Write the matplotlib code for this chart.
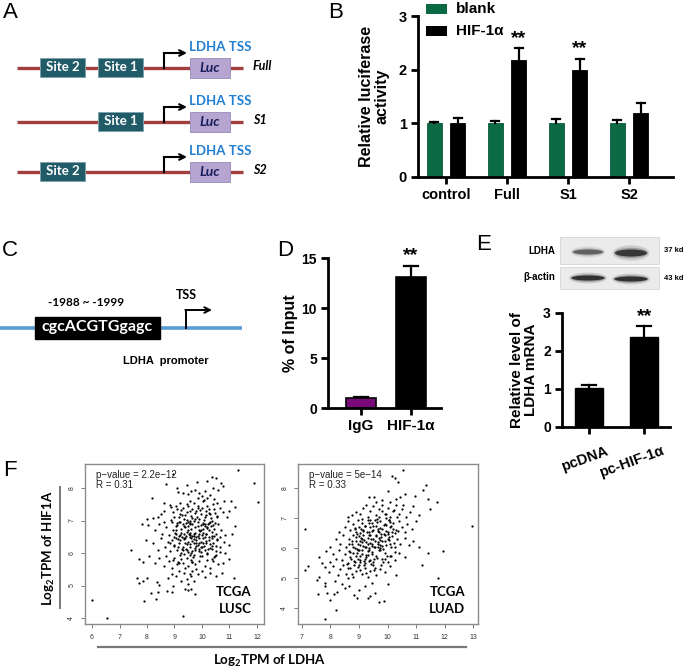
import matplotlib
matplotlib.use("Agg")
import matplotlib.pyplot as plt
from matplotlib.patches import Rectangle, Ellipse

plt.rcParams['font.family'] = ['Liberation Sans', 'DejaVu Sans']
plt.rcParams['mathtext.default'] = 'regular'

# ---------------- data ----------------
b_categories = ['control', 'Full', 'S1', 'S2']
b_blank = [1.0, 1.0, 1.0, 1.0]
b_blank_err = [0.03, 0.05, 0.08, 0.07]
b_hif = [1.0, 2.18, 2.0, 1.2]
b_hif_err = [0.10, 0.22, 0.20, 0.17]
b_sig = ['', '**', '**', '']

d_categories = ['IgG', 'HIF-1α']
d_values = [1.0, 13.1]
d_err = [0.1, 1.1]
d_sig = ['', '**']

e_categories = ['pcDNA', 'pc-HIF-1α']
e_values = [1.02, 2.38]
e_err = [0.08, 0.27]
e_sig = ['', '**']

lusc_x = [8.96, 8.69, 9.1, 9.81, 10.17, 10.5, 10.35, 10.7, 10.75, 11.31, 11.88, 9.45, 10.4, 10.6,
          8.17, 9.14, 9.32, 9.48, 9.6, 9.75, 9.85, 9.9, 10.0, 10.05, 10.2, 10.3, 10.45, 10.55, 10.8, 11.07, 12.03, 9.2, 9.55, 9.7, 10.1, 10.4, 8.6, 8.84,
          8.0, 8.23, 8.4, 8.5, 8.6, 8.96, 9.0, 9.1, 9.2, 9.3, 9.35, 9.45, 9.5, 9.6, 9.65, 9.75, 9.8, 9.85, 9.95, 10.0, 10.1, 10.15, 10.2, 10.3, 10.35, 10.45, 10.55, 10.65, 10.75, 10.9, 11.21, 11.0, 9.05, 9.55, 9.9, 10.25,
          7.81, 8.05, 8.3, 8.45, 8.55, 8.7, 8.8, 8.9, 8.95, 9.05, 9.1, 9.15, 9.2, 9.25, 9.3, 9.35, 9.4, 9.45, 9.5, 9.55, 9.6, 9.65, 9.7, 9.75, 9.8, 9.85, 9.9, 9.95, 10.0, 10.05, 10.1, 10.15, 10.2, 10.25, 10.3, 10.35, 10.4, 10.5, 10.6, 10.7, 10.85, 11.19, 11.1, 8.6, 9.0, 9.5, 9.2, 10.45,
          7.96, 8.2, 8.4, 8.5, 8.65, 8.75, 8.85, 8.9, 9.0, 9.05, 9.1, 9.15, 9.2, 9.25, 9.3, 9.35, 9.4, 9.45, 9.5, 9.55, 9.6, 9.65, 9.7, 9.75, 9.8, 9.85, 9.9, 9.95, 10.0, 10.05, 10.1, 10.15, 10.2, 10.25, 10.3, 10.4, 10.5, 10.55, 10.65, 10.8, 10.82, 11.0, 9.4, 9.6, 9.9, 10.35,
          7.41, 7.71, 7.84, 8.07, 8.3, 8.45, 8.6, 8.7, 8.8, 8.9, 9.0, 9.1, 9.2, 9.3, 9.4, 9.45, 9.5, 9.6, 9.7, 9.75, 9.8, 9.9, 10.0, 10.1, 10.2, 10.3, 10.4, 10.5, 10.6, 10.97, 10.75, 9.55,
          7.62, 7.71, 7.87, 8.01, 8.35, 8.45, 8.78, 8.96, 8.9, 9.05, 9.15, 9.25, 9.35, 9.45, 9.5, 9.6, 9.65, 9.7, 9.85, 10.0, 10.1, 10.3, 10.73, 11.17, 10.5, 9.55,
          7.89, 8.13, 8.33, 8.41, 8.72, 8.92, 9.75, 9.32, 6.0, 6.53, 9.6, 9.4, 9.5,
          9.02, 9.12, 9.18, 9.22, 9.28, 9.32, 9.38, 9.42, 9.48, 9.52, 9.58, 9.62, 9.68, 9.72, 9.78, 9.82, 9.88, 9.92, 9.98, 10.02, 10.08, 10.12, 10.18, 10.22, 10.28, 10.32, 10.38, 10.42, 10.48, 10.52,
          9.08, 9.58, 9.88, 10.12, 9.42, 9.72, 10.02, 9.62, 9.92, 10.22, 9.25, 9.55, 9.85, 10.15, 9.35, 9.65, 9.95, 10.25, 9.45, 9.75]
lusc_y = [8.42, 8.11, 7.99, 8.19, 8.21, 8.3, 8.35, 8.15, 8.05, 8.55, 8.14, 8.1, 8.0, 7.95,
          7.70, 7.87, 7.84, 7.81, 7.9, 7.95, 7.7, 7.85, 7.75, 7.6, 7.7, 7.8, 7.65, 7.55, 7.6, 7.6, 7.58, 7.55, 7.6, 7.55, 7.9, 7.5, 7.55, 7.48,
          7.05, 7.07, 7.1, 7.2, 7.3, 7.27, 7.1, 7.35, 7.2, 7.4, 7.05, 7.25, 7.45, 7.15, 7.35, 7.05, 7.3, 7.45, 7.2, 7.4, 7.1, 7.3, 7.45, 7.2, 7.0, 7.35, 7.15, 7.4, 7.25, 7.1, 7.42, 7.3, 7.45, 7.0, 7.05, 7.35,
          6.88, 6.86, 6.7, 6.9, 6.6, 6.8, 6.55, 6.95, 6.7, 6.6, 6.85, 6.95, 6.55, 6.75, 6.9, 6.6, 6.8, 6.65, 6.95, 6.55, 6.75, 6.9, 6.6, 6.8, 6.5, 6.95, 6.7, 6.85, 6.55, 6.75, 6.9, 6.6, 6.8, 6.5, 6.95, 6.65, 6.85, 6.6, 6.9, 6.7, 6.55, 6.84, 6.6, 6.95, 6.5, 6.7, 6.95, 6.75,
          6.4, 6.3, 6.1, 6.45, 6.2, 6.35, 6.05, 6.4, 6.25, 6.45, 6.1, 6.3, 6.4, 6.0, 6.2, 6.45, 6.3, 6.1, 6.35, 6.2, 6.45, 6.05, 6.3, 6.15, 6.4, 6.25, 6.05, 6.35, 6.2, 6.45, 6.1, 6.3, 6.0, 6.4, 6.15, 6.3, 6.05, 6.4, 6.2, 6.35, 6.0, 6.25, 6.45, 6.0, 6.45, 6.45,
          6.09, 5.82, 5.73, 5.92, 5.7, 5.85, 5.6, 5.9, 5.75, 5.55, 5.85, 5.65, 5.95, 5.7, 5.55, 5.85, 5.6, 5.8, 5.95, 5.65, 5.5, 5.75, 5.9, 5.6, 5.8, 5.55, 5.75, 5.95, 5.65, 5.82, 5.7, 5.95,
          5.22, 5.07, 5.14, 5.22, 5.1, 5.02, 5.22, 4.99, 5.35, 5.3, 5.45, 5.15, 5.4, 5.2, 5.05, 5.3, 5.45, 5.15, 5.35, 5.45, 5.25, 5.4, 5.38, 5.22, 5.3, 5.35,
          4.52, 4.76, 4.58, 4.81, 4.83, 4.81, 4.73, 4.07, 4.55, 4.0, 4.9, 4.9, 4.85,
          6.62, 6.18, 7.12, 5.82, 6.48, 6.08, 7.18, 6.92, 6.02, 6.58, 7.28, 6.38, 5.88, 6.98, 6.22, 7.12, 6.58, 5.92, 6.72, 6.32, 7.02, 6.48, 5.98, 6.88, 6.28, 7.08, 6.52, 5.88, 6.92, 6.22,
          6.92, 6.48, 6.12, 6.82, 6.52, 6.42, 6.88, 5.72, 7.32, 6.12, 6.62, 6.28, 6.82, 6.58, 6.82, 6.52, 6.18, 6.72, 7.02, 7.22]
lusc_core_x = [8.82, 8.88, 8.94, 9.06, 9.14, 9.24, 9.36, 9.44, 9.56, 9.64, 9.76, 9.84, 9.96, 10.04, 10.16, 10.24, 10.36, 10.44, 10.56, 10.64,
               8.86, 9.16, 9.46, 9.76, 10.06, 10.36, 10.66, 8.98, 9.28, 9.58, 9.88, 10.18, 10.48, 9.04, 9.34, 9.64, 9.94, 10.26, 10.54,
               9.12, 9.42, 9.72, 10.02, 10.32, 9.18, 9.48, 9.78, 10.08, 10.38, 9.26, 9.56, 9.86, 10.14, 10.46]
lusc_core_y = [6.32, 7.02, 5.78, 6.72, 6.42, 7.32, 5.98, 6.28, 6.88, 5.72, 6.62, 7.38, 6.02, 6.92, 6.38, 7.22, 6.12, 6.52, 7.12, 6.02,
               7.42, 5.68, 7.52, 6.08, 7.62, 5.82, 6.48, 6.22, 7.18, 6.62, 6.32, 6.78, 7.22, 6.82, 6.42, 7.08, 6.68, 6.92, 6.42,
               5.72, 6.12, 6.52, 6.62, 6.82, 6.52, 6.82, 6.32, 6.22, 6.22, 6.12, 6.92, 6.52, 7.18, 5.92]

luad_x = [10.56, 10.17, 10.25, 10.38, 11.34, 11.26, 10.0, 9.52, 11.42, 11.73, 9.36, 9.8, 10.1, 10.3, 9.6, 10.6, 10.45, 10.95,
          8.6, 8.75, 8.9, 9.05, 9.15, 9.3, 9.4, 9.5, 9.6, 9.7, 9.8, 9.9, 10.0, 10.1, 10.2, 10.3, 10.4, 10.5, 10.65, 10.8, 10.9, 11.1, 11.5, 9.25, 9.95, 10.55,
          7.1, 8.3, 8.5, 8.6, 8.7, 8.8, 8.9, 8.95, 9.0, 9.1, 9.15, 9.2, 9.3, 9.35, 9.4, 9.45, 9.5, 9.55, 9.6, 9.7, 9.75, 9.8, 9.9, 10.0, 10.05, 10.1, 10.2, 10.3, 10.4, 10.5, 10.6, 10.7, 10.85, 11.0, 12.95, 9.05, 9.65, 10.25,
          8.0, 8.2, 8.35, 8.45, 8.55, 8.65, 8.75, 8.8, 8.85, 8.9, 9.0, 9.05, 9.1, 9.15, 9.2, 9.25, 9.3, 9.35, 9.4, 9.45, 9.5, 9.55, 9.6, 9.65, 9.7, 9.75, 9.8, 9.9, 9.95, 10.0, 10.1, 10.15, 10.25, 10.35, 10.45, 10.6, 10.75, 10.9, 11.1, 9.12, 9.42, 9.72,
          7.6, 7.85, 8.0, 8.1, 8.2, 8.3, 8.4, 8.5, 8.6, 8.65, 8.7, 8.8, 8.85, 8.9, 9.0, 9.05, 9.1, 9.2, 9.25, 9.3, 9.4, 9.45, 9.5, 9.6, 9.7, 9.8, 9.9, 10.0, 10.1, 10.25, 10.4, 10.6, 11.42, 11.96, 9.35, 8.95,
          7.12, 7.21, 7.7, 7.82, 7.58, 7.95, 8.1, 8.25, 8.35, 8.45, 8.55, 8.7, 8.8, 8.9, 9.0, 9.1, 9.2, 9.3, 9.4, 9.5, 9.6, 9.75, 9.9, 10.1, 10.3, 11.2, 11.77, 8.6,
          7.55, 7.53, 7.82, 7.82, 7.88, 7.8, 8.2, 7.99, 8.11, 8.23, 8.17, 8.4, 8.52, 8.65, 8.81, 8.93, 9.0, 9.3, 9.2, 9.45, 9.55, 9.7, 9.86, 9.4, 10.0,
          8.72, 8.78, 8.82, 8.88, 8.92, 8.98, 9.02, 9.08, 9.12, 9.18, 9.22, 9.28, 9.32, 9.38, 9.42, 9.48, 9.52, 9.58, 9.62, 9.68, 9.72, 9.78, 9.82, 9.88, 9.92, 9.98, 10.02, 10.08, 10.12, 10.18,
          9.05, 9.35, 9.65, 9.95, 9.15, 9.45, 9.75, 10.05, 8.95, 9.25, 9.55, 9.85, 9.4, 9.7, 8.85, 9.1]
luad_y = [8.6, 8.4, 8.35, 8.21, 8.1, 7.93, 7.91, 7.71, 7.63, 7.52, 7.71, 7.6, 7.55, 7.65, 7.55, 7.8, 7.7, 7.75,
          7.05, 7.1, 7.2, 7.15, 7.35, 7.05, 7.25, 7.4, 7.1, 7.3, 7.45, 7.15, 7.35, 7.05, 7.25, 7.45, 7.15, 7.3, 7.05, 7.2, 7.4, 7.1, 7.3, 7.45, 7.0, 7.45,
          6.62, 6.55, 6.7, 6.9, 6.6, 6.8, 6.55, 6.95, 6.7, 6.85, 6.6, 6.75, 6.95, 6.55, 6.7, 6.85, 6.6, 6.95, 6.75, 6.55, 6.9, 6.65, 6.8, 6.55, 6.95, 6.7, 6.85, 6.6, 6.9, 6.7, 6.55, 6.8, 6.65, 6.9, 6.75, 6.5, 6.65, 6.5,
          6.05, 6.3, 6.15, 6.45, 6.05, 6.3, 6.15, 6.45, 6.0, 6.25, 6.4, 6.1, 6.3, 6.45, 6.05, 6.2, 6.35, 6.0, 6.45, 6.15, 6.3, 6.05, 6.4, 6.2, 6.35, 6.0, 6.25, 6.45, 6.1, 6.3, 6.15, 6.4, 6.05, 6.3, 6.15, 6.35, 6.1, 6.25, 6.05, 6.2, 6.3, 6.1,
          5.7, 5.9, 5.55, 5.8, 5.65, 5.95, 5.6, 5.8, 5.5, 5.9, 5.7, 5.85, 5.55, 5.75, 5.95, 5.6, 5.8, 5.5, 5.7, 5.9, 5.6, 5.8, 5.55, 5.75, 5.95, 5.65, 5.85, 5.55, 5.75, 5.6, 5.85, 5.7, 5.83, 5.91, 5.95, 5.65,
          5.27, 5.41, 5.49, 5.38, 5.04, 5.2, 5.4, 5.1, 5.3, 5.45, 5.15, 5.35, 5.05, 5.25, 5.45, 5.15, 5.35, 5.05, 5.25, 5.45, 5.1, 5.3, 5.2, 5.4, 5.1, 5.43, 4.99, 5.0,
          4.47, 4.93, 4.82, 4.72, 4.49, 3.65, 3.95, 4.27, 4.46, 4.55, 4.9, 4.8, 4.66, 4.75, 4.43, 4.32, 4.6, 4.33, 4.75, 4.85, 4.5, 4.2, 4.23, 4.4, 4.8,
          5.62, 6.02, 5.42, 6.38, 5.82, 6.12, 5.52, 6.62, 5.92, 6.28, 5.62, 6.52, 5.78, 6.18, 5.48, 6.72, 6.02, 6.42, 5.68, 6.58, 5.92, 6.38, 6.08, 6.78, 6.22, 5.72, 6.48, 6.88, 6.02, 6.62,
          5.72, 6.42, 6.12, 6.58, 6.08, 5.88, 6.68, 6.28, 5.38, 5.18, 5.32, 5.52, 6.92, 7.02, 6.62, 6.98]
luad_core_x = [8.62, 8.68, 8.74, 8.84, 8.94, 9.04, 9.14, 9.24, 9.34, 9.44, 9.54, 9.64, 9.74, 9.84, 9.94, 10.04, 10.14, 10.24, 10.34,
               8.66, 8.96, 9.26, 9.56, 9.86, 10.16, 8.76, 9.06, 9.36, 9.66, 9.96, 10.26, 8.86, 9.16, 9.46, 9.76, 10.06, 10.36,
               8.92, 9.22, 9.52, 9.82, 10.12, 9.02, 9.32, 9.62, 9.92, 10.22, 8.58, 9.18, 9.78]
luad_core_y = [5.32, 5.88, 6.22, 5.58, 6.48, 5.28, 6.58, 5.78, 6.82, 6.08, 5.62, 6.88, 6.28, 5.98, 7.12, 6.38, 6.72, 6.18, 7.02,
               6.12, 5.92, 6.02, 6.22, 6.48, 6.52, 5.12, 6.32, 5.58, 6.02, 6.78, 5.88, 6.68, 5.42, 6.58, 5.42, 6.92, 6.58,
               5.98, 6.72, 5.28, 7.22, 5.72, 6.22, 6.12, 6.98, 5.62, 7.28, 5.48, 5.58, 6.48]

f_xticks_lusc = [6, 7, 8, 9, 10, 11, 12]
f_xticks_luad = [7, 8, 9, 10, 11, 12, 13]
f_yticks = [4, 5, 6, 7, 8]

# ---------------- figure ----------------
W, H = 685, 670
fig = plt.figure(figsize=(W / 100, H / 100), dpi=100)


def px_axes(x0, y0, x1, y1):
    return fig.add_axes([x0 / W, 1 - y1 / H, (x1 - x0) / W, (y1 - y0) / H])


ov = fig.add_axes([0, 0, 1, 1])
ov.set_xlim(0, W)
ov.set_ylim(H, 0)
ov.axis('off')

DIAG = ['Lato', 'DejaVu Sans']

# panel letters
for lab, x, y in [('A', 10, 13), ('B', 336, 13), ('C', 10, 251), ('D', 285, 251), ('E', 484, 245), ('F', 10, 471)]:
    ov.text(x, y, lab, fontsize=16, ha='center', va='center')

# ---------------- Panel A ----------------
rows = [(68, ['Site 2', 'Site 1'], 'Full'), (122, ['Site 1'], 'S1'), (172, ['Site 2'], 'S2')]
site_x = {'Site 2': 40, 'Site 1': 98}
for y, sites, name in rows:
    ov.plot([17, 243], [y, y], color='#a03f3e', lw=2.4, solid_capstyle='butt', zorder=1)
    for s in sites:
        ov.add_patch(Rectangle((site_x[s], y - 10.5), 45, 19, facecolor='#215b68', edgecolor='#7fa3ad', lw=0.7, zorder=2))
        ov.text(site_x[s] + 22.5, y - 1, s, color='white', fontweight='bold', fontsize=9.5, family=DIAG, ha='center', va='center', zorder=3)
    ov.add_patch(Rectangle((190, y - 10), 40, 19.5, facecolor='#b5a5d0', edgecolor='#a193c0', lw=0.7, zorder=2))
    ov.text(210, y - 0.5, 'Luc', color='#1a1f5c', fontweight='bold', fontstyle='italic', fontsize=10, family=DIAG, ha='center', va='center', zorder=3)
    ov.plot([164.5, 164.5], [y, y - 15], color='black', lw=1.5, zorder=3)
    ov.annotate('', xy=(187, y - 15), xytext=(163.8, y - 15),
                arrowprops=dict(arrowstyle='->', lw=1.5, color='black', mutation_scale=10, shrinkA=0, shrinkB=0), zorder=3)
    ov.text(220, y - 21, 'LDHA TSS', color='#1f7fd2', fontweight='bold', fontsize=9.5, family=DIAG, ha='center', va='center')
    ov.text(253, y - 1.5, name, fontweight='bold', fontstyle='italic', fontsize=9, family=DIAG, ha='left', va='center')

# ---------------- Panel B ----------------
axB = px_axes(418, 16, 673, 177)
xg = list(range(len(b_categories)))
off = 0.195
bw = 0.245
xb = [i - off for i in xg]
xh = [i + off for i in xg]
axB.bar(xb, b_blank, width=bw, color='#0b6a44', edgecolor='#0b5a3a', lw=0.6, zorder=2)
axB.bar(xh, b_hif, width=bw, color='black', edgecolor='black', lw=0.6, zorder=2)
cap = 0.07
for xs, vals, errs in [(xb, b_blank, b_blank_err), (xh, b_hif, b_hif_err)]:
    for x, v, e in zip(xs, vals, errs):
        axB.plot([x, x], [v, v + e], color='black', lw=1.6, zorder=3)
        axB.plot([x - cap, x + cap], [v + e, v + e], color='black', lw=1.6, zorder=3)
for x, v, e, s in zip(xh, b_hif, b_hif_err, b_sig):
    if s:
        axB.text(x, v + e + 0.03, s, ha='center', va='bottom', fontsize=14, fontweight='bold')
axB.set_xlim(-0.46, 3.72)
axB.set_ylim(0, 3)
axB.set_xticks(xg)
axB.set_xticklabels(b_categories, fontsize=10.5, fontweight='bold')
axB.set_yticks([0, 1, 2, 3])
axB.set_yticklabels(['0', '1', '2', '3'], fontsize=10.5, fontweight='bold')
for sp in ['top', 'right']:
    axB.spines[sp].set_visible(False)
for sp in ['left', 'bottom']:
    axB.spines[sp].set_linewidth(2)
axB.tick_params(width=2, length=5, pad=3)
axB.patch.set_visible(False)
ov.text(374, 96, 'Relative luciferase\nactivity', rotation=90, ha='center', va='center', fontsize=11.5, fontweight='bold', linespacing=1.05)
# legend
ov.add_patch(Rectangle((426, 4), 21, 10, facecolor='#0b6a44', edgecolor='none'))
ov.add_patch(Rectangle((426, 26), 21, 10, facecolor='black', edgecolor='none'))
ov.text(456, 9, 'blank', fontsize=11, fontweight='bold', va='center')
ov.text(456, 31, 'HIF-1α', fontsize=11, fontweight='bold', va='center')

# ---------------- Panel C ----------------
ov.plot([0, 242], [328, 328], color='#5b9bd5', lw=2.6, solid_capstyle='butt', zorder=1)
ov.add_patch(Rectangle((35, 316.5), 125, 22, facecolor='black', edgecolor='black', zorder=2))
ov.text(97.5, 327.5, 'cgcACGTGgagc', color='white', fontweight='bold', fontsize=11.5, family=DIAG, ha='center', va='center', zorder=3)
ov.text(86, 302, '-1988 ~ -1999', fontweight='bold', fontsize=8.5, family=DIAG, ha='center', va='center')
ov.plot([186, 186], [328, 310], color='black', lw=1.4, zorder=3)
ov.annotate('', xy=(212, 310), xytext=(185.3, 310),
            arrowprops=dict(arrowstyle='->', lw=1.4, color='black', mutation_scale=10, shrinkA=0, shrinkB=0))
ov.text(186, 295, 'TSS', fontweight='bold', fontsize=9, family=DIAG, ha='center', va='center')
ov.text(166, 361, 'LDHA  promoter', fontweight='bold', fontsize=8, ha='center', va='center')

# ---------------- Panel D ----------------
axD = px_axes(328, 258, 441, 408)
xd = list(range(len(d_categories)))
axD.bar(xd, d_values, width=0.6, color=['#7a0a7a', 'black'], edgecolor='black', lw=1.2, zorder=2)
for x, v, e, s in zip(xd, d_values, d_err, d_sig):
    axD.plot([x, x], [v, v + e], color='black', lw=1.6, zorder=3)
    axD.plot([x - 0.14, x + 0.14], [v + e, v + e], color='black', lw=1.6, zorder=3)
    if s:
        axD.text(x, v + e + 0.2, s, ha='center', va='bottom', fontsize=14, fontweight='bold')
axD.set_xlim(-0.66, 1.6)
axD.set_ylim(0, 15)
axD.set_xticks(xd)
axD.set_xticklabels(d_categories, fontsize=11, fontweight='bold')
axD.set_yticks([0, 5, 10, 15])
axD.set_yticklabels(['0', '5', '10', '15'], fontsize=10, fontweight='bold')
for sp in ['top', 'right']:
    axD.spines[sp].set_visible(False)
for sp in ['left', 'bottom']:
    axD.spines[sp].set_linewidth(2)
axD.tick_params(width=2, length=5, pad=3)
axD.patch.set_visible(False)
ov.text(291, 333, '% of Input', rotation=90, ha='center', va='center', fontsize=11.5, fontweight='bold')

# ---------------- Panel E ----------------
for (y0, y1) in [(237, 264), (267, 289)]:
    ov.add_patch(Rectangle((560, y0), 99, y1 - y0, facecolor='#ebebeb', edgecolor='#d6d6d6', lw=0.6))
bands = [(588, 252, 30, 5, 0.55), (631, 253, 32, 7, 0.8), (588, 278, 33, 5, 0.85), (631, 279, 33, 5, 0.85)]
for cx, cy, w, h, a in bands:
    for sw, sh, sa in [(1.15, 2.2, 0.18), (1.05, 1.5, 0.35), (1.0, 1.0, 1.0)]:
        ov.add_patch(Ellipse((cx, cy), w * sw, h * sh, facecolor='#1e1e1e', edgecolor='none', alpha=a * sa))
ov.text(555, 251, 'LDHA', fontsize=7, fontweight='bold', ha='right', va='center')
ov.text(555, 277, 'β-actin', fontsize=7, fontweight='bold', ha='right', va='center')
ov.text(664, 251, '37 kd', fontsize=5.5, fontweight='bold', ha='left', va='center')
ov.text(664, 278, '43 kd', fontsize=5.5, fontweight='bold', ha='left', va='center')

axE = px_axes(562, 313, 670, 427)
xe = list(range(len(e_categories)))
axE.bar(xe, e_values, width=0.5, color='black', edgecolor='black', zorder=2)
for x, v, e, s in zip(xe, e_values, e_err, e_sig):
    axE.plot([x, x], [v, v + e], color='black', lw=1.6, zorder=3)
    axE.plot([x - 0.13, x + 0.13], [v + e, v + e], color='black', lw=1.6, zorder=3)
    if s:
        axE.text(x, v + e + 0.03, s, ha='center', va='bottom', fontsize=14, fontweight='bold')
axE.set_xlim(-0.49, 1.47)
axE.set_ylim(0, 3)
axE.set_xticks(xe)
axE.set_xticklabels([])
axE.set_yticks([0, 1, 2, 3])
axE.set_yticklabels(['0', '1', '2', '3'], fontsize=10, fontweight='bold')
for sp in ['top', 'right']:
    axE.spines[sp].set_visible(False)
for sp in ['left', 'bottom']:
    axE.spines[sp].set_linewidth(2)
axE.tick_params(width=2, length=5, pad=3)
axE.patch.set_visible(False)
for x, lab in zip(xe, e_categories):
    axE.annotate(lab, xy=(x, 0), xycoords=('data', 'axes fraction'), xytext=(12, -12), textcoords='offset points',
                 rotation=20, rotation_mode='anchor', ha='right', va='top', fontsize=10.5, fontweight='bold')
ov.text(524, 370, 'Relative level of\nLDHA mRNA', rotation=90, ha='center', va='center', fontsize=11, fontweight='bold', linespacing=1.0)

# ---------------- Panel F ----------------
def scatter_panel(box, xs, ys, cx, cy, xlim, ylim, xticks, ptxt, rtxt, name):
    ax = px_axes(*box)
    ax.scatter(xs, ys, s=2.6, color='black', linewidths=0)
    ax.scatter(cx, cy, s=2.6, color='black', linewidths=0)
    ax.set_xlim(*xlim)
    ax.set_ylim(*ylim)
    ax.set_xticks(xticks)
    ax.set_xticklabels([str(t) for t in xticks], fontsize=5, color='#333333')
    ax.set_yticks(f_yticks)
    ax.set_yticklabels([str(t) for t in f_yticks], fontsize=5, color='#333333', rotation=90, va='center')
    for sp in ax.spines.values():
        sp.set_color('#8c8c8c')
        sp.set_linewidth(1.0)
    ax.tick_params(length=3, width=0.6, color='#666666', pad=4)
    ax.text(0.06, 0.965, ptxt + '\n' + rtxt, transform=ax.transAxes, fontsize=7, color='#222222', ha='left', va='top', linespacing=1.1)
    ax.text(0.93, 0.055, name, transform=ax.transAxes, fontsize=9.5, fontweight='bold', family=DIAG, ha='right', va='bottom', linespacing=1.5)
    return ax


scatter_panel((85, 464, 264, 624), lusc_x, lusc_y, lusc_core_x, lusc_core_y, (5.745, 12.255), (3.815, 8.74), f_xticks_lusc,
              'p\u2212value = 2.2e\u221212', 'R = 0.31', 'TCGA\nLUSC')
scatter_panel((298, 464, 478, 624), luad_x, luad_y, luad_core_x, luad_core_y, (6.86, 13.175), (3.47, 8.8), f_xticks_luad,
              'p\u2212value = 5e\u221214', 'R = 0.33', 'TCGA\nLUAD')

ov.plot([60, 60], [487, 608], color='#777777', lw=1.4)
ov.plot([98, 466], [647, 647], color='#777777', lw=1.6)
ov.text(49, 548, 'Log$_2$TPM of HIF1A', rotation=90, ha='center', va='center', fontsize=9.5, fontweight='bold', family=DIAG)
ov.text(270, 661, 'Log$_2$TPM of LDHA', ha='center', va='center', fontsize=9.5, fontweight='bold', family=DIAG)

fig.savefig('out.png', dpi=100)
